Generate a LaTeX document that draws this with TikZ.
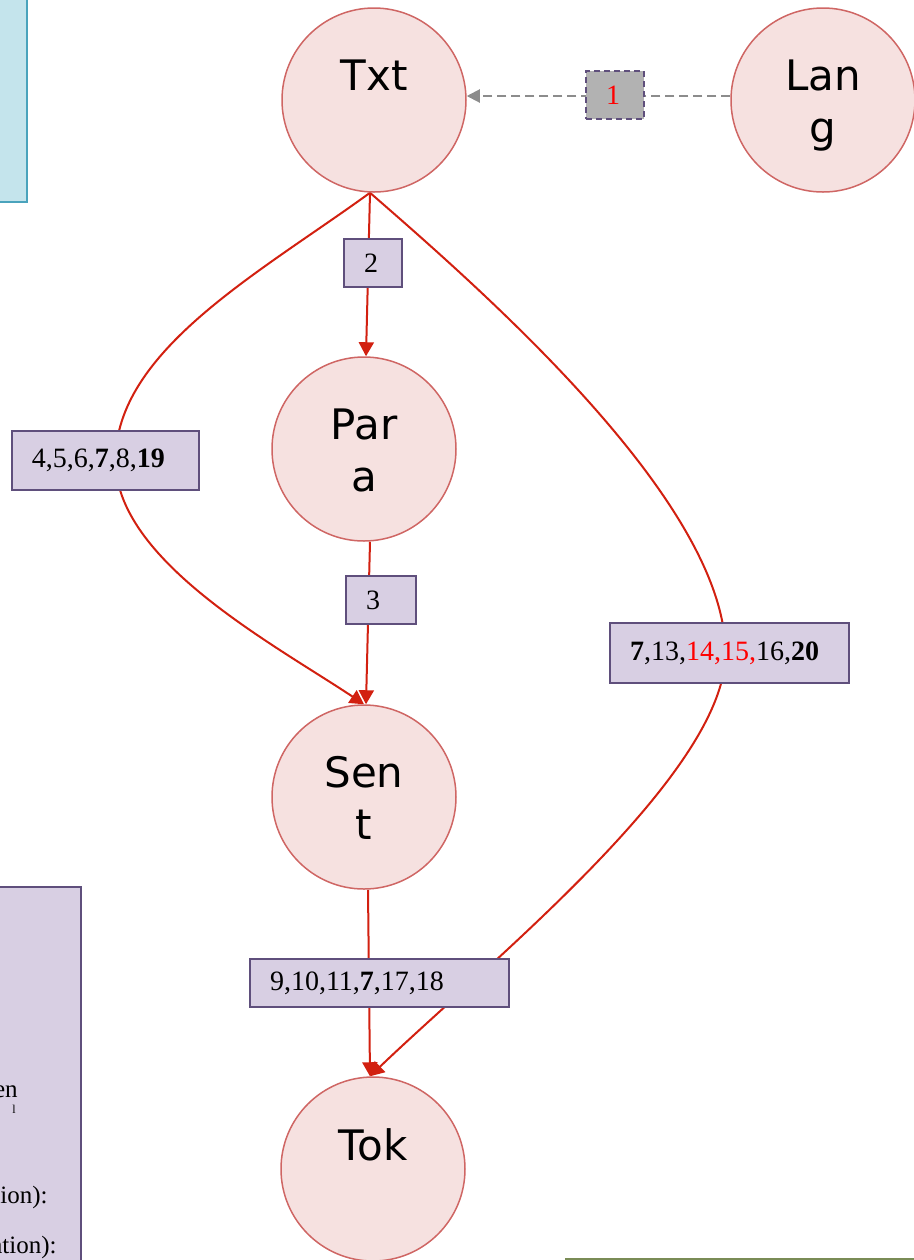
\documentclass[tikz,border=0pt]{standalone}
\usepackage{fontspec}
\setmainfont{Liberation Serif}
\newfontfamily\entfont{DejaVu Sans}
\usetikzlibrary{arrows.meta,backgrounds}

\definecolor{entfill}{HTML}{F6E1E0}
\definecolor{entline}{HTML}{CF6664}
\definecolor{boxfill}{HTML}{D8CFE3}
\definecolor{boxline}{HTML}{5F4F7C}
\definecolor{relred}{HTML}{D22010}
\definecolor{depgray}{HTML}{8C8C8C}
\definecolor{notefill}{HTML}{C4E4EC}
\definecolor{noteline}{HTML}{4AA3BC}
\definecolor{olive}{HTML}{7A8C56}

\begin{document}
\begin{tikzpicture}[x=0.5pt, y=-0.5pt,
	ent/.style={circle, draw=entline, fill=entfill, line width=0.75pt, minimum size=92pt, inner sep=0pt},
	entname/.style={anchor=north, yshift=-26pt, inner sep=0pt, align=center, font=\entfont\fontsize{21}{26}\selectfont},
	relbox/.style={draw=boxline, fill=boxfill, line width=0.8pt, text width=#1, inner xsep=10pt, inner ysep=0pt, align=left, font=\fontsize{14}{16}\selectfont},
	rel/.style={draw=relred, line width=1pt, -{Triangle[length=7pt,width=7.5pt]}},
	dep/.style={draw=depgray, line width=1pt, dash pattern=on 4.5pt off 2.5pt, -{Triangle[length=6.5pt,width=6.5pt]}},
	frag/.style={anchor=base east, inner sep=0pt, font=\fontsize{12.5}{14}\selectfont}
	]
	\useasboundingbox (0,0) rectangle (914,1260);

	% cut-off notes at the edges
	\draw[noteline, fill=notefill, line width=1.25pt] (-20,-20) rectangle (27,202);
	\draw[boxline, fill=boxfill, line width=0.8pt] (-20,887) rectangle (81,1290);
	\node[frag] (nen) at (18,1097) {en};
	\node[frag, font=\fontsize{6}{7}\selectfont] (nl) at (16,1113) {l};
	\node[frag, anchor=base west] (nion) at (0,1203) {ion):};
	\node[frag] (nation) at (57,1253) {ation):};
	\draw[olive, line width=1.3pt] (565,1259) -- (930,1259);

	% entities
	\node[ent] (txt) at (374,100) {};
	\node[ent] (lang) at (823,100) {};
	\node[ent] (para) at (364,449) {};
	\node[ent] (sent) at (364,797) {};
	\node[ent] (tok) at (373,1169) {};
	\node[entname] (txtname) at (txt.north) {Txt};
	\node[entname] (langname) at (lang.north) {Lan\\g};
	\node[entname] (paraname) at (para.north) {Par\\a};
	\node[entname] (sentname) at (sent.north) {Sen\\t};
	\node[entname] (tokname) at (tok.north) {Tok};

	% relation boxes
	\node[relbox=9pt, minimum height=24pt, fill=black!30, dash pattern=on 3pt off 2pt] (rlang) at (615,95) {\textcolor{red}{1}};
	\node[relbox=9pt, minimum height=24pt] (rpara) at (373,263) {2};
	\node[relbox=15pt, minimum height=24pt] (rsent) at (381,600) {3};
	\node[relbox=73.5pt, minimum height=29.5pt] (rtxtsent) at (105.5,460.5) {4,5,6,\textbf{7},8,\textbf{19}};
	\node[relbox=99.5pt, minimum height=30pt] (rtxttok) at (729.5,653) {\textbf{7},13,\textcolor{red}{14,15,}16,\textbf{20}};
	\node[relbox=109.5pt, minimum height=24pt] (rtok) at (379.5,983) {9,10,11,\textbf{7},17,18};

	\begin{scope}[on background layer]
		\draw[dep] ([yshift=2pt]lang.west) -- ([yshift=2pt]txt.east);
		\draw[rel] ([xshift=-2pt]txt.south) -- ([xshift=1pt]para.north);
		\draw[rel] ([xshift=3pt]para.south) -- ([xshift=1pt]sent.north);
		\draw[rel] ([xshift=2pt]sent.south) -- ([xshift=-1.5pt]tok.north);
		\draw[rel] ([xshift=-2pt]txt.south) .. controls +(-110,80) and +(0,-110) .. ([xshift=5pt]rtxtsent.center)
			.. controls +(0,100) and +(-90,-60) .. (sent.north);
		\draw[rel] ([xshift=-2pt]txt.south) .. controls +(115,100) and +(0,-150) .. ([xshift=-2pt]rtxttok.center)
			.. controls +(0,120) and +(120,-115) .. ([xshift=-1.5pt]tok.north);
	\end{scope}
\end{tikzpicture}
\end{document}
